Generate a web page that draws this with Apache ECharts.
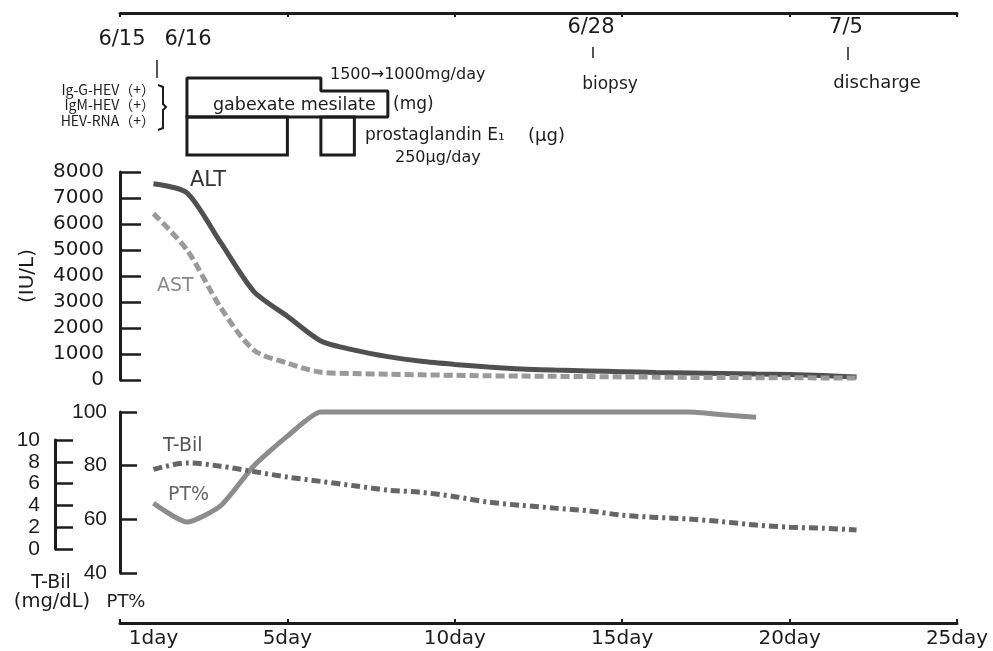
<!DOCTYPE html>
<html>
<head>
<meta charset="utf-8">
<script src="https://cdn.jsdelivr.net/npm/echarts@6/dist/echarts.min.js"></script>
<style>
html,body{margin:0;padding:0;background:#fff;}
#chart{width:993px;height:651px;}
</style>
</head>
<body>
<div id="chart"></div>
<script>
// ---------- data ----------
const days = [1,2,3,4,5,6,7,8,9,10,11,12,13,14,15,16,17,18,19,20,21,22];
const altValues = [7550,7200,5300,3400,2450,1500,1150,900,720,600,500,420,380,350,320,290,270,250,230,210,170,120];
const astValues = [6400,5000,2800,1150,650,300,250,220,200,180,160,150,140,130,120,110,100,100,90,90,80,80];
const tbilValues = [7.3,7.9,7.6,7.1,6.6,6.2,5.8,5.4,5.2,4.8,4.3,4.0,3.75,3.5,3.1,2.9,2.75,2.5,2.2,2.0,1.9,1.75];
const ptDays = [1,2,3,4,5,6,7,8,9,10,11,12,13,14,15,16,17,18,19];
const ptValues = [66,59,65,80,91,100,100,100,100,100,100,100,100,100,100,100,100,99,98];

const gabexateStart = [2,6];
const gabexateEnd = [6,8];
const gabexateDose = [1500,1000];
const prostaStart = [2,6];
const prostaEnd = [5,7];
const prostaDose = [250,250];

const xTickDays = [0,5,10,15,20,25];
const xLabelDays = [1,5,10,15,20,25];
const dateLabels = ['6/15','6/16','6/28','7/5'];
const eventLabels = ['biopsy','discharge'];
const hevLabels = ['Ig-G-HEV（+）','IgM-HEV（+）','HEV-RNA（+）'];

// ---------- build ----------
const pair = (xs, ys) => xs.map((x,i)=>[x, ys[i]]);
const gabexatePoly = [[gabexateStart[0],0]];
gabexateStart.forEach((s,i)=>{ gabexatePoly.push([s,gabexateDose[i]]); gabexatePoly.push([gabexateEnd[i],gabexateDose[i]]); });
gabexatePoly.push([gabexateEnd[gabexateEnd.length-1],0]);
gabexatePoly.push([gabexateStart[0],0]);

const INK = '#1c1c1c';
const F1 = 'DejaVu Sans';
const FN = '"Liberation Sans Narrow", "Liberation Sans"';
const L = 120, W = 837;

const hiddenX = (gi) => ({gridIndex:gi, type:'value', min:0, max:25, show:false});
const hiddenY = (gi,max) => ({gridIndex:gi, type:'value', min:0, max:max, show:false});

const chart = echarts.init(document.getElementById('chart'), null, {renderer:'canvas'});
const option = {
  animation:false,
  backgroundColor:'#fff',
  grid:[
    {left:L, top:172, width:W, height:208},
    {left:L, top:412, width:W, height:161},
    {left:L, top:440, width:W, height:109},
    {left:L, top:78, width:W, height:39},
    {left:L, top:117, width:W, height:38}
  ],
  xAxis:[
    {gridIndex:0, type:'value', min:0, max:25, interval:5, position:'top', offset:159,
     axisLine:{onZero:false, lineStyle:{color:INK,width:3}},
     axisTick:{inside:true,length:4,lineStyle:{color:INK,width:2}},
     axisLabel:{show:false}, splitLine:{show:false}},
    {gridIndex:1, type:'value', min:0, max:25, position:'bottom', offset:50,
     axisLine:{onZero:false, lineStyle:{color:INK,width:3}},
     axisTick:{inside:true,length:4,customValues:xTickDays,lineStyle:{color:INK,width:2}},
     axisLabel:{customValues:xLabelDays, formatter:(v)=>v+'day', color:INK, fontFamily:F1, fontSize:20, margin:6},
     splitLine:{show:false}},
    hiddenX(2), hiddenX(3), hiddenX(4)
  ],
  yAxis:[
    {gridIndex:0, type:'value', min:0, max:8000, interval:1000,
     name:'(IU/L)', nameLocation:'middle', nameRotate:90, nameGap:82,
     nameTextStyle:{color:INK,fontFamily:F1,fontSize:20},
     axisLine:{show:true,onZero:false,lineStyle:{color:INK,width:3}},
     axisTick:{show:true,inside:true,length:21,lineStyle:{color:INK,width:2.5}},
     axisLabel:{color:INK,fontFamily:F1,fontSize:20,margin:16,formatter:(v)=>String(v)},
     splitLine:{show:false}},
    {gridIndex:1, type:'value', min:40, max:100, interval:20,
     axisLine:{show:true,onZero:false,lineStyle:{color:INK,width:3}},
     axisTick:{show:true,inside:true,length:17,lineStyle:{color:INK,width:2.5}},
     axisLabel:{color:INK,fontFamily:FN,fontSize:21,margin:13},
     splitLine:{show:false}},
    {gridIndex:2, type:'value', min:0, max:10, interval:2, offset:65,
     axisLine:{show:true,onZero:false,lineStyle:{color:INK,width:3}},
     axisTick:{show:true,inside:true,length:18,lineStyle:{color:INK,width:2.5}},
     axisLabel:{color:INK,fontFamily:FN,fontSize:21,margin:15},
     splitLine:{show:false}},
    hiddenY(3, 1500), hiddenY(4, 250)
  ],
  series:[
    {name:'ALT', type:'line', xAxisIndex:0, yAxisIndex:0, data:pair(days, altValues),
     showSymbol:false, smooth:0.25, clip:false,
     lineStyle:{color:'#505050',width:5}},
    {name:'AST', type:'line', xAxisIndex:0, yAxisIndex:0, data:pair(days, astValues),
     showSymbol:false, smooth:0.3, clip:false,
     lineStyle:{color:'#9a9a9a',width:5,type:[9,4]}},
    {name:'PT%', type:'line', xAxisIndex:1, yAxisIndex:1, data:pair(ptDays, ptValues),
     showSymbol:false, smooth:0.2, clip:false,
     lineStyle:{color:'#8c8c8c',width:5}},
    {name:'T-Bil', type:'line', xAxisIndex:2, yAxisIndex:2, data:pair(days, tbilValues),
     showSymbol:false, smooth:0.3, clip:false,
     lineStyle:{color:'#666',width:5,type:[9,4,3,4]}},
    {name:'gabexate', type:'line', xAxisIndex:3, yAxisIndex:3, data:gabexatePoly,
     showSymbol:false, clip:false, lineStyle:{color:INK,width:3}},
    {name:'prostaglandin', type:'custom', xAxisIndex:4, yAxisIndex:4, clip:false,
     data:prostaStart.map((s,i)=>[s, prostaEnd[i], prostaDose[i]]),
     renderItem:function(params, api){
       const p1 = api.coord([api.value(0), api.value(2)]);
       const p2 = api.coord([api.value(1), 0]);
       return {type:'rect', shape:{x:p1[0], y:p1[1], width:p2[0]-p1[0], height:p2[1]-p1[1]},
               style:{fill:'none', stroke:INK, lineWidth:3}};
     }}
  ],
  graphic:[]
};

const txt = (text,x,y,size,align,fam,color) => ({type:'text', x:x, y:y, silent:true,
  style:{text:text, fill:color||INK, fontFamily:fam||F1, fontSize:size, textAlign:align||'left', textVerticalAlign:'middle'}});
const ln = (x1,y1,x2,y2,w) => ({type:'line', silent:true, shape:{x1:x1,y1:y1,x2:x2,y2:y2}, style:{stroke:INK,lineWidth:w||1.5}});
const CJK = '"Noto Sans CJK JP"';

option.graphic = [
  txt(dateLabels[0], 122, 40, 21, 'center'),
  txt(dateLabels[1], 188, 40, 21, 'center'),
  txt(dateLabels[2], 591, 28, 21, 'center'),
  txt(dateLabels[3], 846, 28, 21, 'center'),
  ln(157,60,157,78), ln(593,47,593,58), ln(848,47,848,60),
  txt(eventLabels[0], 610, 85, 17, 'center'),
  txt(eventLabels[1], 877, 83, 18, 'center'),
  txt(hevLabels[0], 155, 90, 14, 'right', CJK),
  txt(hevLabels[1], 155, 105, 14, 'right', CJK),
  txt(hevLabels[2], 155, 121, 14, 'right', CJK),
  {type:'polyline', silent:true, shape:{points:[[158,85],[163,87],[163,104],[166,107],[163,110],[163,128],[158,130]]},
   style:{stroke:INK, lineWidth:2, fill:'none'}},
  txt('1500→1000mg/day', 330, 75, 16),
  txt('gabexate mesilate', 213, 105, 17.5),
  txt('(mg)', 393, 105, 17),
  txt('prostaglandin E₁', 365, 136, 17),
  txt('(μg)', 528, 136, 18),
  txt('250μg/day', 395, 158, 16),
  txt('ALT', 190, 181, 21, 'left', F1, '#333'),
  txt('AST', 157, 286, 19, 'left', F1, '#8a8a8a'),
  txt('T-Bil', 163, 446, 19, 'left', F1, '#555'),
  txt('PT%', 168, 495, 19, 'left', F1, '#666'),
  txt('T-Bil', 51, 583, 19, 'center'),
  txt('(mg/dL)', 52, 602, 19.5, 'center'),
  txt('PT%', 126, 602, 18, 'center')
];

chart.setOption(option);
</script>
</body>
</html>
